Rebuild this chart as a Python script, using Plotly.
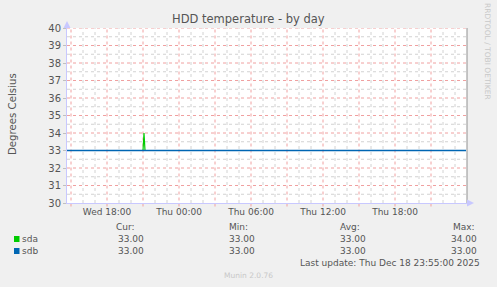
import plotly.graph_objects as go
import pandas as pd

# ---- data ----
sda_times = ["2025-12-17 14:40", "2025-12-17 21:00", "2025-12-17 21:05",
             "2025-12-17 21:10", "2025-12-18 23:55"]
sda_values = [33, 33, 34, 33, 33]
sdb_times = ["2025-12-17 14:40", "2025-12-18 23:55"]
sdb_values = [33, 33]

x_range = ["2025-12-17 14:40", "2025-12-19 00:00"]
tick_vals = ["2025-12-17 15:00", "2025-12-17 18:00", "2025-12-17 21:00",
             "2025-12-18 00:00", "2025-12-18 03:00", "2025-12-18 06:00",
             "2025-12-18 09:00", "2025-12-18 12:00", "2025-12-18 15:00",
             "2025-12-18 18:00", "2025-12-18 21:00"]
tick_text = ["", "Wed 18:00", "", "Thu 00:00", "", "Thu 06:00", "",
             "Thu 12:00", "", "Thu 18:00", ""]
y_range = [30, 40]

series_names = ["sda", "sdb"]
series_colors = ["#00CC00", "#0066B3"]
stat_headers = ["Cur:", "Min:", "Avg:", "Max:"]
stats = {
    "sda": ["33.00", "33.00", "33.00", "34.00"],
    "sdb": ["33.00", "33.00", "33.00", "33.00"],
}
last_update = "Last update: Thu Dec 18 23:55:00 2025"
title = "HDD temperature - by day"
y_title = "Degrees Celsius"

# ---- layout geometry (pixels) ----
W, H = 497, 287
L, R, T, B = 67, 467, 28, 203
FONT = "DejaVu Sans"
TXT = "#555555"
MAJOR = "#F0A0A0"
MINOR = "#D2D2D2"
DASH = "dot"

hours = pd.date_range("2025-12-17 15:00", "2025-12-18 23:00", freq="h")
x_minor = [h.strftime("%Y-%m-%d %H:%M") for h in hours if h.hour % 3 != 0]
y_minor = [v + 0.5 for v in range(y_range[0], y_range[1])]
y_major = list(range(y_range[0] + 1, y_range[1] + 1))


def px(x):
    return (x - L) / (R - L)


def py(y):
    return (B - y) / (B - T)


fig = go.Figure()
fig.add_trace(go.Scatter(x=sda_times, y=sda_values, mode="lines",
                         line=dict(color=series_colors[0], width=1.2),
                         name="sda", hoverinfo="skip"))
fig.add_trace(go.Scatter(x=sdb_times, y=sdb_values, mode="lines",
                         line=dict(color=series_colors[1], width=1.4),
                         name="sdb", hoverinfo="skip"))

shapes = []
# grid (minor first, major on top), drawn beneath the data
for xv in x_minor:
    shapes.append(dict(type="line", xref="x", yref="paper", x0=xv, x1=xv, y0=0, y1=1,
                       layer="below", line=dict(color=MINOR, width=1, dash=DASH)))
for yv in y_minor:
    shapes.append(dict(type="line", xref="paper", yref="y", x0=0, x1=1, y0=yv, y1=yv,
                       layer="below", line=dict(color=MINOR, width=1, dash=DASH)))
for xv in tick_vals:
    shapes.append(dict(type="line", xref="x", yref="paper", x0=xv, x1=xv, y0=-0.02, y1=1,
                       layer="below", line=dict(color=MAJOR, width=1, dash=DASH)))
for yv in y_major:
    shapes.append(dict(type="line", xref="paper", yref="y", x0=0, x1=1, y0=yv, y1=yv,
                       layer="below", line=dict(color=MAJOR, width=1, dash=DASH)))

anns = []
anns.append(dict(x=px(248), y=py(19), text=title, showarrow=False,
                 xref="paper", yref="paper", xanchor="center", yanchor="middle",
                 font=dict(family=FONT, size=11.5, color=TXT)))
anns.append(dict(x=px(12), y=py(114), text=y_title, showarrow=False,
                 xref="paper", yref="paper", xanchor="center", yanchor="middle",
                 textangle=-90, font=dict(family=FONT, size=10.2, color=TXT)))
anns.append(dict(x=px(488), y=py(51), text="RRDTOOL / TOBI OETIKER", showarrow=False,
                 xref="paper", yref="paper", xanchor="center", yanchor="middle",
                 textangle=90, font=dict(family=FONT, size=7.5, color="#C8C8C8")))

header_right = [137, 250, 362, 477]
value_right = [146, 257, 368, 479]
anns_rows_y = [239, 251]
for hx, h in zip(header_right, stat_headers):
    anns.append(dict(x=px(hx), y=py(227), text=h, showarrow=False,
                     xref="paper", yref="paper", xanchor="right", yanchor="middle",
                     font=dict(family=FONT, size=9, color=TXT)))
for name, col, ry in zip(series_names, series_colors, anns_rows_y):
    shapes.append(dict(type="rect", xref="paper", yref="paper",
                       x0=px(14), x1=px(19.5), y0=py(ry - 3), y1=py(ry + 3),
                       fillcolor=col, line=dict(width=0)))
    anns.append(dict(x=px(20), y=py(ry), text=name, showarrow=False,
                     xref="paper", yref="paper", xanchor="left", yanchor="middle",
                     font=dict(family=FONT, size=9, color=TXT)))
    for vx, v in zip(value_right, stats[name]):
        anns.append(dict(x=px(vx), y=py(ry), text=v, showarrow=False,
                         xref="paper", yref="paper", xanchor="right", yanchor="middle",
                         font=dict(family=FONT, size=9, color=TXT)))
anns.append(dict(x=px(482), y=py(263), text=last_update, showarrow=False,
                 xref="paper", yref="paper", xanchor="right", yanchor="middle",
                 font=dict(family=FONT, size=9, color=TXT)))
anns.append(dict(x=px(248), y=py(275), text="Munin 2.0.76", showarrow=False,
                 xref="paper", yref="paper", xanchor="center", yanchor="middle",
                 font=dict(family=FONT, size=7.5, color="#C8C8C8")))

# right vertical dark line
shapes.append(dict(type="line", xref="paper", yref="paper",
                   x0=1, x1=1, y0=0, y1=1, line=dict(color="#909090", width=1)))
# axis arrows
ax_col = "#C8C8FF"
shapes.append(dict(type="path", xref="paper", yref="paper",
                   path=f"M {px(63.5)} {py(28)} L {px(70.5)} {py(28)} L {px(67)} {py(21)} Z",
                   fillcolor=ax_col, line=dict(width=0)))
shapes.append(dict(type="path", xref="paper", yref="paper",
                   path=f"M {px(467)} {py(199.5)} L {px(467)} {py(206.5)} L {px(474)} {py(203)} Z",
                   fillcolor=ax_col, line=dict(width=0)))

fig.update_layout(
    width=W, height=H,
    margin=dict(l=L, r=W - R, t=T, b=H - B),
    paper_bgcolor="#F0F0F0", plot_bgcolor="#FFFFFF",
    showlegend=False,
    annotations=anns, shapes=shapes,
    xaxis=dict(type="date", range=x_range, tickmode="array",
               tickvals=tick_vals, ticktext=tick_text,
               showgrid=False, ticks="", ticklen=3,
               showline=True, linecolor=ax_col, linewidth=1,
               zeroline=False, fixedrange=True,
               tickfont=dict(family=FONT, size=9, color=TXT)),
    yaxis=dict(range=y_range, tickmode="linear", dtick=1, tick0=30,
               showgrid=False,
               ticks="outside", ticklen=3, tickcolor="#C0C0C0",
               showline=True, linecolor=ax_col, linewidth=1,
               zeroline=False, fixedrange=True,
               tickfont=dict(family=FONT, size=10, color=TXT)),
)

fig.write_html("out.html", config={"displayModeBar": False})
